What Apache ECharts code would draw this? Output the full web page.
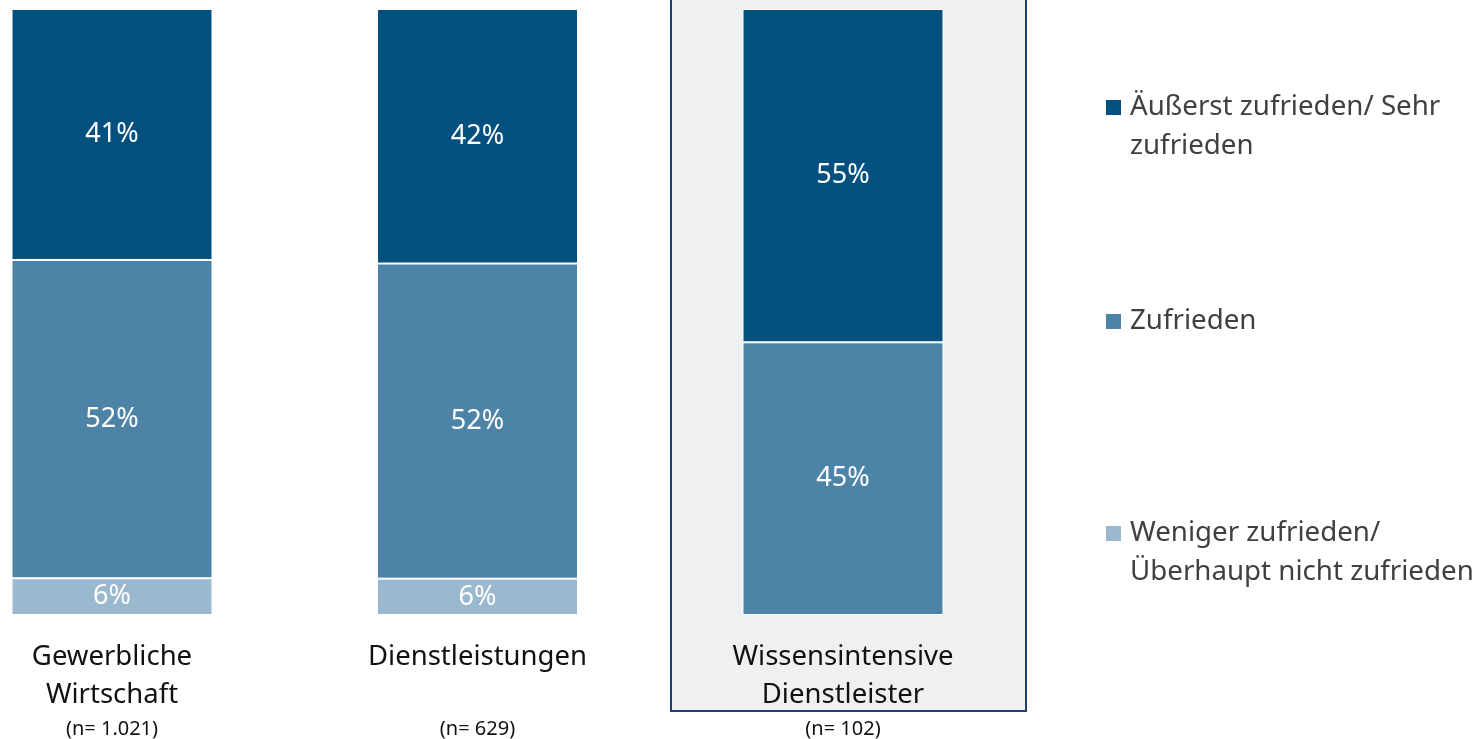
<!DOCTYPE html>
<html>
<head>
<meta charset="utf-8">
<script src="https://cdn.jsdelivr.net/npm/echarts@6/dist/echarts.min.js"></script>
<style>
  html, body { margin: 0; padding: 0; background: #fff; }
  #chart { width: 1479px; height: 739px; }
</style>
</head>
<body>
<div id="chart"></div>
<script>
  const categories = ['Gewerbliche\nWirtschaft', 'Dienstleistungen', 'Wissensintensive\nDienstleister'];
  const sampleSizes = ['1.021', '629', '102'];
  const seriesNames = ['Äußerst zufrieden/ Sehr\nzufrieden', 'Zufrieden', 'Weniger zufrieden/\nÜberhaupt nicht zufrieden'];
  const sehrZufrieden = [41, 42, 55];
  const zufrieden = [52, 52, 45];
  const wenigerZufrieden = [6, 6, null];
  const colors = ['#02507E', '#4E83A8', '#9AB9CE'];

  const font = 'Noto Sans';
  const raw = [sehrZufrieden, zufrieden, wenigerZufrieden];
  const totals = categories.map((c, i) => raw.reduce((s, arr) => s + (arr[i] || 0), 0));

  // bars are drawn as share of 100 %, labels show the rounded published values
  const makeSeries = (k) => ({
    name: seriesNames[k],
    type: 'bar',
    stack: 'total',
    barWidth: 201,
    clip: false,
    data: raw[k].map((v, i) => v == null ? null : v / totals[i] * 100),
    itemStyle: { color: colors[k], borderColor: '#fff', borderWidth: 1 },
    label: {
      show: true,
      position: 'inside',
      color: '#fff',
      fontFamily: font,
      fontSize: 27,
      formatter: (p) => raw[k][p.dataIndex] + '%'
    }
  });

  const legendTops = [49, 302, 475];
  const legends = seriesNames.map((n, k) => ({
    orient: 'vertical',
    left: 1106,
    top: legendTops[k],
    padding: 0,
    itemWidth: 15,
    itemHeight: 15,
    icon: 'rect',
    itemStyle: { borderWidth: 0 },
    data: [n],
    // blank first line so the marker sits next to the first text line
    formatter: (name) => name.indexOf('\n') > -1 ? ' \n' + name : name,
    textStyle: { fontFamily: font, fontSize: 27.7, color: '#404040', lineHeight: 39, padding: [0, 0, 0, 4] },
    selectedMode: false
  }));

  const option = {
    animation: false,
    graphic: [{
      type: 'rect',
      z: -10,
      shape: { x: 671, y: -2, width: 355, height: 713 },
      style: { fill: '#F0F0F0', stroke: '#1C3F6E', lineWidth: 2 }
    }],
    legend: legends,
    grid: { left: 112, width: 731, top: 9, bottom: 122 },
    xAxis: {
      type: 'category',
      data: categories,
      boundaryGap: false,
      axisLine: { show: false },
      axisTick: { show: false },
      axisLabel: {
        margin: 23,
        interval: 0,
        formatter: (v, i) => {
          const lines = v.split('\n');
          while (lines.length < 2) lines.push(' ');
          return lines.map(l => '{a|' + l + '}').join('\n') + '\n{n|(n= ' + sampleSizes[i] + ')}';
        },
        rich: {
          a: { fontFamily: font, fontSize: 27.5, lineHeight: 38, color: '#111' },
          n: { fontFamily: font, fontSize: 20, lineHeight: 30, color: '#111' }
        }
      }
    },
    yAxis: { type: 'value', min: 0, max: 100, show: false },
    series: [makeSeries(2), makeSeries(1), makeSeries(0)]
  };

  const myChart = echarts.init(document.getElementById('chart'));
  myChart.setOption(option);
</script>
</body>
</html>
